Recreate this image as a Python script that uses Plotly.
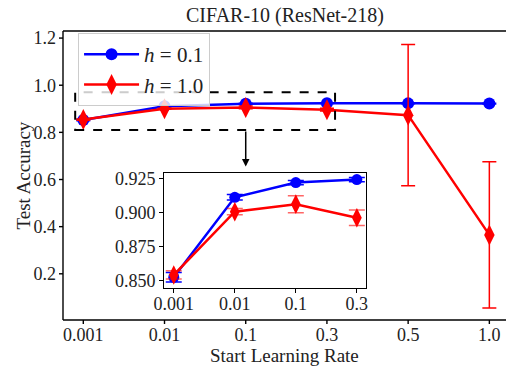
import plotly.graph_objects as go

# Start learning rates (categorical x positions)
learning_rates = ["0.001", "0.01", "0.1", "0.3", "0.5", "1.0"]

# Mean test accuracy and std for each noise level h
acc_h01 = [0.8525, 0.911, 0.9218, 0.924, 0.923, 0.922]
err_h01 = [0.0035, 0.002, 0.0015, 0.0015, 0.002, 0.002]
acc_h10 = [0.8542, 0.9005, 0.906, 0.8961, 0.873, 0.365]
err_h10 = [0.003, 0.0023, 0.0062, 0.0057, 0.30, 0.31]

# Tick values of the main and inset y axes
main_yticks = [0.2, 0.4, 0.6, 0.8, 1.0, 1.2]
inset_yticks = [0.85, 0.875, 0.9, 0.925]

# Inset shows the first four learning rates
n_inset = 4

BLUE = "#0000ff"
RED = "#ff0000"
FONT = "Liberation Serif"
TXT = "#222"

xs = list(range(len(learning_rates)))
xs_in = xs[:n_inset]

fig = go.Figure()

# ---- main axes ----
fig.add_trace(go.Scatter(
    x=xs, y=acc_h01, mode="lines+markers", name="<i>h</i> = 0.1",
    line=dict(color=BLUE, width=2.5),
    marker=dict(symbol="circle", size=12, color=BLUE),
    error_y=dict(type="data", array=err_h01, color=BLUE, thickness=1.5, width=7),
    xaxis="x", yaxis="y",
))
fig.add_trace(go.Scatter(
    x=xs, y=acc_h10, mode="lines+markers", name="<i>h</i> = 1.0",
    line=dict(color=RED, width=2.5),
    marker=dict(symbol="diamond-tall", size=15, color=RED),
    error_y=dict(type="data", array=err_h10, color=RED, thickness=1.5, width=7),
    xaxis="x", yaxis="y",
))

# ---- inset axes (zoom on the first four learning rates) ----
fig.add_trace(go.Scatter(
    x=xs_in, y=acc_h01[:n_inset], mode="lines+markers", showlegend=False,
    line=dict(color=BLUE, width=2.5),
    marker=dict(symbol="circle", size=11, color=BLUE),
    error_y=dict(type="data", array=err_h01[:n_inset], color=BLUE, thickness=1.5, width=8),
    xaxis="x2", yaxis="y2",
))
fig.add_trace(go.Scatter(
    x=xs_in, y=acc_h10[:n_inset], mode="lines+markers", showlegend=False,
    line=dict(color=RED, width=2.5),
    marker=dict(symbol="diamond-tall", size=14, color=RED),
    error_y=dict(type="data", array=err_h10[:n_inset], color="rgba(255,0,0,0.6)",
                 thickness=1.5, width=8),
    xaxis="x2", yaxis="y2",
))

tickfont = dict(family=FONT, size=18, color=TXT)
main_axis = dict(showgrid=False, zeroline=False, showline=False, ticks="",
                 tickfont=tickfont, automargin=False)
inset_axis = dict(showgrid=False, zeroline=False, showline=True, linecolor="black",
                  linewidth=1, mirror=True, ticks="outside", ticklen=4, tickwidth=1,
                  tickcolor="black", tickfont=tickfont, automargin=False)

fig.update_layout(
    template="none",
    width=506, height=367,
    margin=dict(l=63, r=0, t=31, b=47),
    paper_bgcolor="white", plot_bgcolor="white",
    font=dict(family=FONT, color=TXT),
    xaxis=dict(
        **main_axis, domain=[0, 1], range=[-0.25, 5.205], anchor="y",
        tickvals=xs, ticktext=learning_rates, ticklabelstandoff=2,
    ),
    yaxis=dict(
        **main_axis, domain=[0, 1], range=[0.004, 1.23], anchor="x",
        tickvals=main_yticks, tickformat=".1f", ticklabelstandoff=6,
    ),
    xaxis2=dict(
        **inset_axis, domain=[0.228, 0.684], range=[-0.16, 3.15], anchor="y2",
        tickvals=xs_in, ticktext=learning_rates[:n_inset], ticklabelstandoff=-4,
    ),
    yaxis2=dict(
        **inset_axis, domain=[0.112, 0.51], range=[0.8449, 0.9291], anchor="x2",
        tickvals=inset_yticks, tickformat=".3f",
    ),
    legend=dict(
        x=0.034, y=0.993, xanchor="left", yanchor="top",
        bgcolor="rgba(255,255,255,0.8)", bordercolor="#cccccc", borderwidth=1,
        font=dict(family=FONT, size=21, color=TXT),
        itemwidth=55, tracegroupgap=0,
    ),
    showlegend=True,
)

# spines of the main axes (left, bottom, top)
spine = dict(color="black", width=1.4)
fig.add_shape(type="line", xref="paper", yref="paper", x0=0, x1=0, y0=0, y1=1, line=spine)
fig.add_shape(type="line", xref="paper", yref="paper", x0=0, x1=1, y0=0, y1=0, line=spine)
fig.add_shape(type="line", xref="paper", yref="paper", x0=0, x1=1, y0=1, y1=1, line=spine)

# outward tick marks of the main axes, 4 px long
for xv in xs:
    fig.add_shape(type="line", xref="x", yref="paper", ysizemode="pixel", yanchor=0,
                  x0=xv, x1=xv, y0=0, y1=-4, line=spine)
for yv in main_yticks:
    fig.add_shape(type="line", xref="paper", yref="y", xsizemode="pixel", xanchor=0,
                  x0=-4, x1=0, y0=yv, y1=yv, line=spine)

# dashed box marking the zoomed region
fig.add_shape(type="rect", xref="x", yref="y", x0=-0.1, x1=3.1, y0=0.81, y1=0.97,
              line=dict(color="black", width=2, dash="dash"))

# arrow from the dashed box down to the inset
fig.add_annotation(
    x=2, y=0.655, ax=2, ay=0.81, xref="x", yref="y", axref="x", ayref="y",
    showarrow=True, arrowhead=2, arrowsize=1, arrowwidth=1.5, arrowcolor="black", text="",
)

# title and axis labels
fig.add_annotation(text="CIFAR-10 (ResNet-218)", xref="paper", yref="paper",
                   x=0.5, y=1, yshift=2, xanchor="center", yanchor="bottom",
                   showarrow=False, font=dict(family=FONT, size=20, color=TXT))
fig.add_annotation(text="Start Learning Rate", xref="paper", yref="paper",
                   x=0.5, y=0, yshift=-35, xanchor="center", yanchor="middle",
                   showarrow=False, font=dict(family=FONT, size=19, color=TXT))
fig.add_annotation(text="Test Accuracy", xref="paper", yref="paper",
                   x=0, xshift=-40, y=0.5, textangle=-90, xanchor="center", yanchor="middle",
                   showarrow=False, font=dict(family=FONT, size=19, color=TXT))

fig.write_html("out.html")
